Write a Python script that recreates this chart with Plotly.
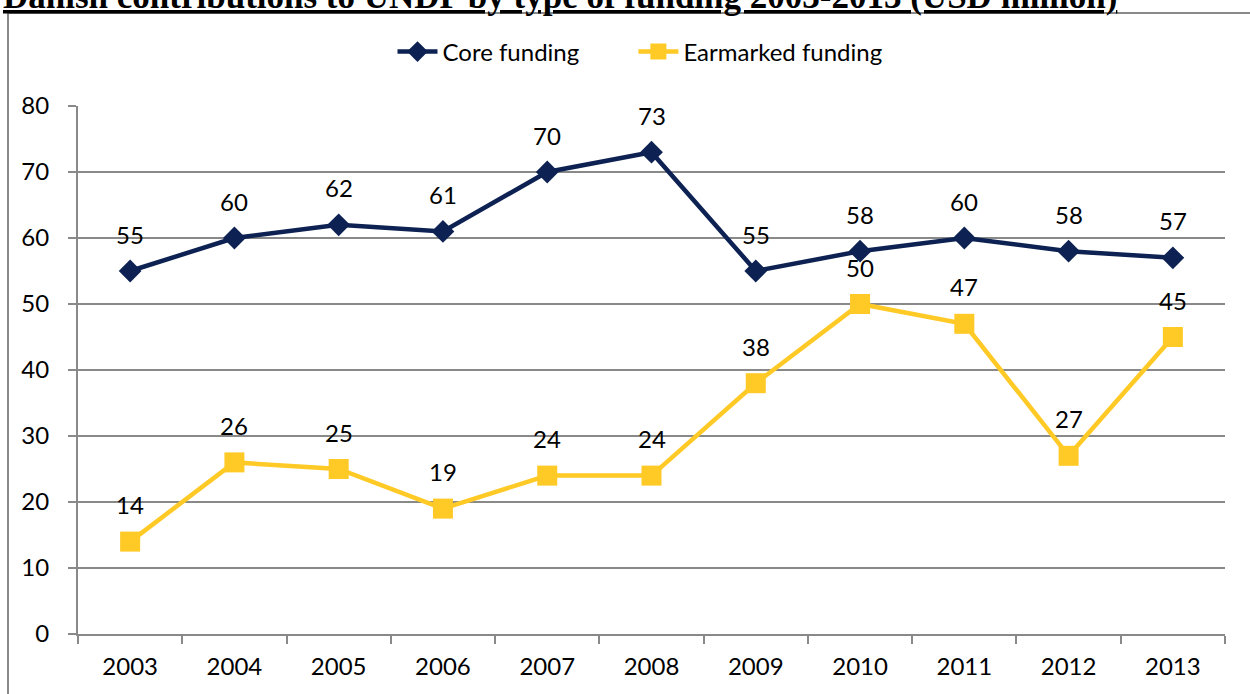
import plotly.graph_objects as go

years = ["2003", "2004", "2005", "2006", "2007", "2008", "2009", "2010", "2011", "2012", "2013"]
core = [55, 60, 62, 61, 70, 73, 55, 58, 60, 58, 57]
earmarked = [14, 26, 25, 19, 24, 24, 38, 50, 47, 27, 45]
y_ticks = [0, 10, 20, 30, 40, 50, 60, 70, 80]

NAVY = "#0D2252"
YELLOW = "#FFC926"
GRID = "#898989"
FONT = "Lato"
FS = 24

W, H = 1250, 694
L, R, T, B = 78, 25, 106, 60
pw, ph = W - L - R, H - T - B

def px_x(p):
    return (p - L) / pw

def px_y(p):
    return (H - B - p) / ph

NB = "\u00a0"
fig = go.Figure()
fig.add_trace(go.Scatter(
    x=years, y=core, name="Core funding" + NB * 8, mode="lines+markers",
    line=dict(color=NAVY, width=4.5),
    marker=dict(symbol="diamond", size=17.5, color=NAVY),
))
fig.add_trace(go.Scatter(
    x=years, y=earmarked, name="Earmarked funding", mode="lines+markers",
    line=dict(color=YELLOW, width=4.5),
    marker=dict(symbol="square", size=20, color=YELLOW),
))

annotations = []
for series in (core, earmarked):
    for i, yv in enumerate(series):
        annotations.append(dict(
            x=i, y=yv, xref="x", yref="y", text=str(yv), showarrow=False,
            yshift=37, yanchor="middle", xanchor="center",
            font=dict(family=FONT, size=FS, color="black"),
        ))

annotations.append(dict(
    x=px_x(560), y=px_y(-4), xref="paper", yref="paper",
    text="<b><u>Danish contributions to UNDP by type of funding 2003-2013 (USD million)</u></b>",
    showarrow=False, xanchor="center", yanchor="middle",
    font=dict(family="Liberation Serif", size=35, color="black"),
))

fig.update_layout(
    width=W, height=H,
    margin=dict(l=L, r=R, t=T, b=B, pad=0),
    paper_bgcolor="white", plot_bgcolor="white",
    font=dict(family=FONT, size=FS, color="black"),
    showlegend=True,
    legend=dict(
        orientation="h", x=px_x(640), y=px_y(52), xanchor="center", yanchor="middle",
        font=dict(family=FONT, size=FS, color="black"), bgcolor="rgba(0,0,0,0)",
        itemwidth=40,
    ),
    annotations=annotations,
    shapes=[dict(
        type="rect", xref="paper", yref="paper",
        x0=px_x(8), x1=px_x(1300), y0=px_y(760), y1=px_y(13),
        line=dict(color=GRID, width=2), fillcolor="rgba(0,0,0,0)", layer="below",
    )],
)

fig.update_xaxes(
    type="category", range=[-0.5, 10.5],
    showline=True, linecolor=GRID, linewidth=2,
    ticks="outside", tickson="boundaries", ticklen=8, tickcolor=GRID, tickwidth=2,
    showgrid=False, tickfont=dict(family=FONT, size=FS, color="black"),
    ticklabelstandoff=10,
)
fig.update_yaxes(
    range=[0, 80], tickvals=y_ticks,
    showline=True, linecolor=GRID, linewidth=2,
    ticks="outside", ticklen=8, tickcolor=GRID, tickwidth=2,
    showgrid=True, gridcolor=GRID, gridwidth=1.5,
    zeroline=False,
    tickfont=dict(family=FONT, size=FS, color="black"),
    ticklabelstandoff=14,
)

fig.write_html("out.html")
